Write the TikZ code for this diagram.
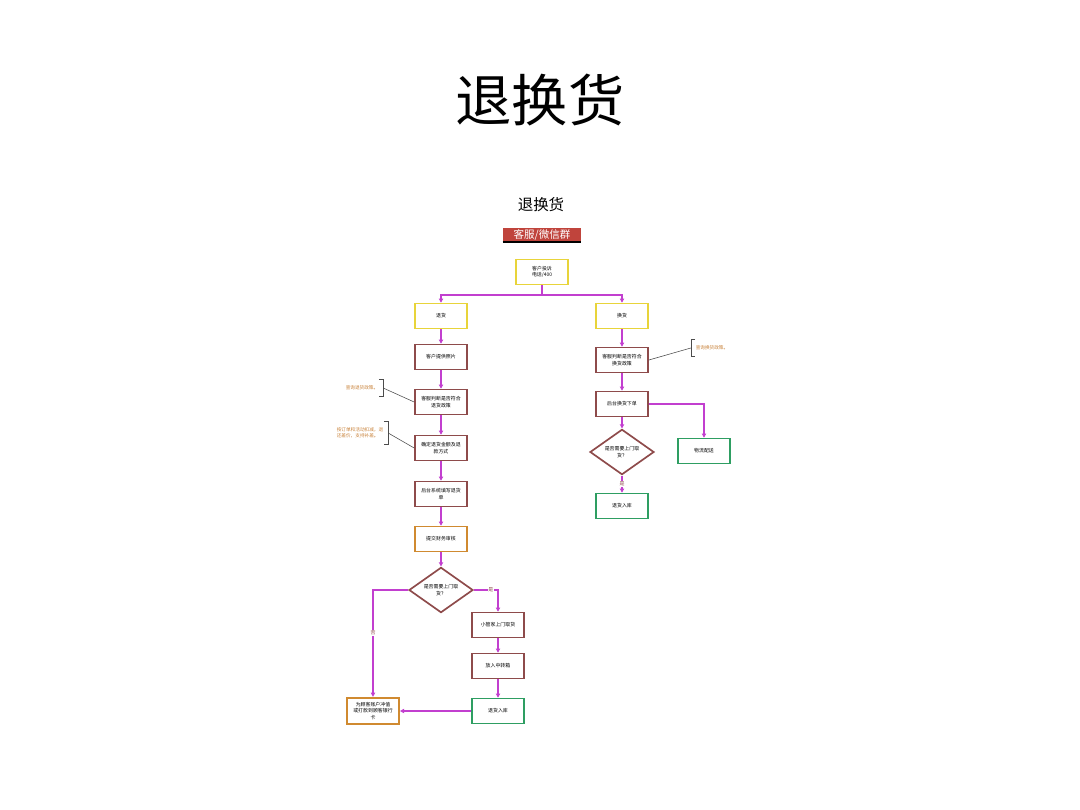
\documentclass[tikz,border=0pt]{standalone}
\usepackage{fontspec}
\newfontfamily\cjk{Noto Sans CJK SC}
\usetikzlibrary{shapes.geometric, arrows.meta, positioning}
\definecolor{flowline}{HTML}{C23FCF}
\definecolor{boxbrown}{HTML}{8E4B4B}
\definecolor{boxyellow}{HTML}{E8D43A}
\definecolor{boxgreen}{HTML}{2E9E62}
\definecolor{boxorange}{HTML}{D08A30}
\definecolor{notetext}{HTML}{C8823A}
\definecolor{barred}{HTML}{C0443C}
\tikzset{
  box/.style={rectangle, draw=boxbrown, line width=1.2pt, minimum width=1.3cm, minimum height=0.62cm, align=center, font=\cjk\fontsize{3.5}{4.5}\selectfont},
  startbox/.style={box, draw=boxyellow},
  endbox/.style={box, draw=boxgreen},
  paybox/.style={box, draw=boxorange},
  decision/.style={diamond, draw=boxbrown, line width=1.2pt, inner sep=0pt, minimum width=1.6cm, minimum height=0.85cm, align=center, font=\cjk\fontsize{3.5}{4.5}\selectfont},
  note/.style={font=\cjk\fontsize{3.3}{4.2}\selectfont, text=notetext, align=left},
  arrow/.style={flowline, line width=0.9pt, -{Triangle[length=3pt,width=3pt]}},
  link/.style={flowline, line width=0.9pt},
  tag/.style={font=\cjk\fontsize{3.5}{4}\selectfont, text=boxbrown, fill=white, inner sep=0.5pt},
  bracket/.style={black!70, line width=0.4pt}
}
\begin{document}
\begin{tikzpicture}[x=0.025cm, y=-0.025cm]
        \useasboundingbox (0,0) rectangle (1080,810);
        % Titles
        \node [font=\cjk\fontsize{40}{44}\selectfont] (title) at (540,100) {退换货};
        \node [font=\cjk\fontsize{11}{13}\selectfont] (subtitle) at (541,205) {退换货};
        \node [fill=barred, text=white, minimum width=1.95cm, minimum height=0.34cm, inner sep=0pt, font=\cjk\fontsize{7.5}{9}\selectfont] (bar) at (542,235) {客服/微信群};
        \draw [line width=1pt] (bar.south west) -- (bar.south east);

        % Nodes
        \node [startbox] (complaint) at (542,272) {客户投诉\\电话/400};
        \node [startbox] (refund) at (441,316) {退货};
        \node [startbox] (exchange) at (622,316) {换货};
        \node [box] (photo) at (441,357) {客户提供照片};
        \node [box] (checkref) at (441,402) {客服判断是否符合\\退货政策};
        \node [box] (amount) at (441,448) {确定退货金额及退\\款方式};
        \node [box] (refform) at (441,494) {后台系统填写退货\\单};
        \node [paybox] (finance) at (441,539) {提交财务审核};
        \node [decision] (pickup) at (441,590) {是否需要上门取\\货？};
        \node [box] (courier) at (498,625) {小管家上门取货};
        \node [box] (transit) at (498,666) {放入中转箱};
        \node [endbox] (stockin) at (498,711) {退货入库};
        \node [paybox] (payback) at (373,711) {为顾客账户冲值\\或打款到顾客银行\\卡};
        \node [box] (checkexc) at (622,360) {客服判断是否符合\\换货政策};
        \node [box] (order) at (622,404) {后台换货下单};
        \node [decision] (pickup2) at (622,452) {是否需要上门取\\货？};
        \node [endbox] (stockin2) at (622,506) {退货入库};
        \node [endbox] (delivery) at (704,451) {物流配送};

        % Notes
        \node [note] (noteexc) at (712,348) {查询换货政策。};
        \node [note] (noteref) at (362,388) {查询退货政策。};
        \node [note] (noteamt) at (360,433) {按订单和活动扣减，退\\还差价，支持补差。};
        \draw [bracket] ([xshift=3pt,yshift=1pt]noteexc.north west) -| ([yshift=-1pt]noteexc.south west) -- ++(3pt,0);
        \draw [bracket] (noteexc.west) -- (checkexc.east);
        \draw [bracket] ([xshift=-3pt,yshift=1pt]noteref.north east) -| ([yshift=-1pt]noteref.south east) -- ++(-3pt,0);
        \draw [bracket] (noteref.east) -- (checkref.west);
        \draw [bracket] ([xshift=-3pt,yshift=1pt]noteamt.north east) -| ([yshift=-1pt]noteamt.south east) -- ++(-3pt,0);
        \draw [bracket] (noteamt.east) -- (amount.west);

        % Arrows
        \coordinate (split) at (542,295);
        \draw [link] (complaint) -- (split);
        \draw [arrow] (split) -| (refund);
        \draw [arrow] (split) -| (exchange);
        \draw [arrow] (refund) -- (photo);
        \draw [arrow] (photo) -- (checkref);
        \draw [arrow] (checkref) -- (amount);
        \draw [arrow] (amount) -- (refform);
        \draw [arrow] (refform) -- (finance);
        \draw [arrow] (finance) -- (pickup);
        \draw [arrow] (pickup.east) -| (courier) node[tag, pos=0.35] {是};
        \draw [arrow] (pickup.west) -| (payback) node[tag, pos=0.7] {否};
        \draw [arrow] (courier) -- (transit);
        \draw [arrow] (transit) -- (stockin);
        \draw [arrow] (stockin) -- (payback);
        \draw [arrow] (exchange) -- (checkexc);
        \draw [arrow] (checkexc) -- (order);
        \draw [arrow] (order) -- (pickup2);
        \draw [arrow] (order.east) -| (delivery);
        \draw [arrow] (pickup2) -- (stockin2) node[tag, midway] {是};
    \end{tikzpicture}
\end{document}
